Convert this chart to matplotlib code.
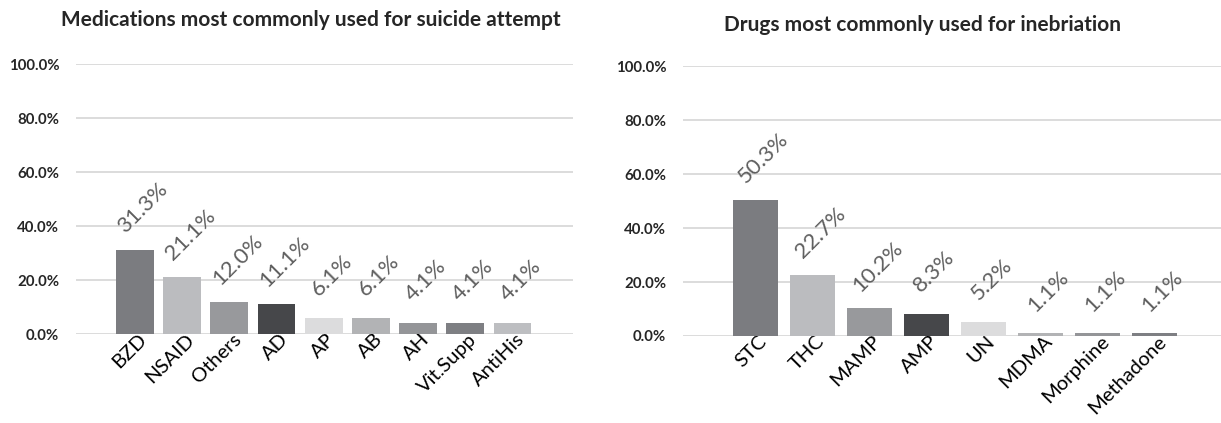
import matplotlib as mpl
mpl.use('Agg')
import matplotlib.pyplot as plt
from matplotlib.transforms import ScaledTranslation

plt.rcParams['font.family'] = ['Lato', 'DejaVu Sans']

# medications (suicide attempt)
meds = ['BZD', 'NSAID', 'Others', 'AD', 'AP', 'AB', 'AH', 'Vit.Supp', 'AntiHis']
meds_pct = [31.3, 21.1, 12.0, 11.1, 6.1, 6.1, 4.1, 4.1, 4.1]

# drugs (inebriation)
drugs = ['STC', 'THC', 'MAMP', 'AMP', 'UN', 'MDMA', 'Morphine', 'Methadone']
drugs_pct = [50.3, 22.7, 10.2, 8.3, 5.2, 1.1, 1.1, 1.1]

palette = ['#7b7c80', '#bbbcbf', '#98999c', '#46474a', '#dcdcdd',
           '#b2b3b5', '#949598', '#7e7f83', '#bdbec1']

fig = plt.figure(figsize=(12.21, 4.23), dpi=100)
ax1 = fig.add_axes([0.0622, 0.2104, 0.407, 0.638])
ax2 = fig.add_axes([0.5594, 0.2057, 0.4406, 0.638])


def draw(ax, names, vals, xlim, title, title_pos):
    x = list(range(len(names)))
    ax.bar(x, vals, width=0.8, color=palette[:len(names)], zorder=3)
    ax.set_xlim(*xlim)
    ax.set_ylim(0, 100)
    ax.set_yticks([0, 20, 40, 60, 80, 100])
    ax.set_yticklabels(['0.0%', '20.0%', '40.0%', '60.0%', '80.0%', '100.0%'],
                       fontsize=10.8, fontweight='bold', color='#262626')
    ax.grid(axis='y', color='#d9d9d9', linewidth=1.3, zorder=0)
    ax.set_axisbelow(True)
    for s in ax.spines.values():
        s.set_visible(False)
    ax.tick_params(length=0, axis='y', pad=12)
    ax.tick_params(length=0, axis='x', pad=4)
    ax.set_xticks(x)
    ax.set_xticklabels(names, rotation=45, ha='right', va='center',
                       rotation_mode='anchor', fontsize=14.5, color='#000000')
    shift = ScaledTranslation(0.09, 0.03, fig.dpi_scale_trans)
    for lab in ax.get_xticklabels():
        lab.set_transform(lab.get_transform() + shift)
    for xi, v in zip(x, vals):
        ax.annotate(f'{v:.1f}%', (xi, v), xytext=(8, 42), textcoords='offset pixels',
                    rotation=45, ha='center', va='center', fontsize=16,
                    color='#5f5f5f')
    fig.text(title_pos[0], title_pos[1], title, fontsize=15, fontweight='bold',
             color='#262626', ha='center', va='center')


draw(ax1, meds, meds_pct, (-1.25, 9.28),
     'Medications most commonly used for suicide attempt', (311 / 1221, 1 - 20 / 423))
draw(ax2, drugs, drugs_pct, (-1.27, 8.17),
     'Drugs most commonly used for inebriation', (923 / 1221, 1 - 25 / 423))

fig.savefig('out.png', dpi=100)
